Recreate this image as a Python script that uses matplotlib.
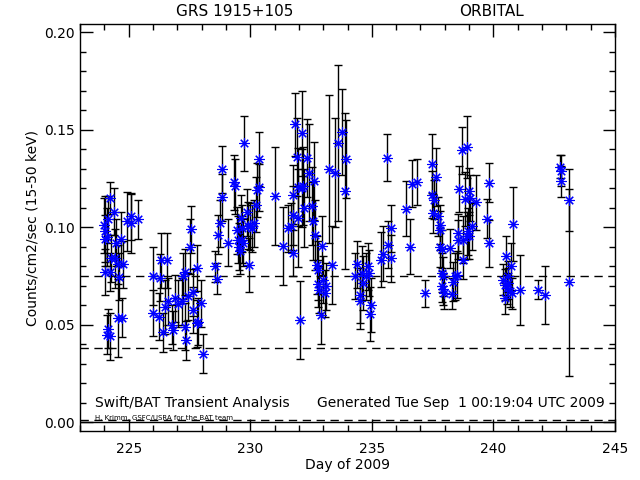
import matplotlib
matplotlib.use("Agg")
import matplotlib.pyplot as plt
from matplotlib.ticker import MultipleLocator

# day of 2009, rate, error
days = [
    224.23, 224.41, 224.00, 224.16, 224.03, 224.10, 224.03, 224.47, 224.69, 224.92,
    225.08, 225.08, 225.40, 224.27, 224.44, 224.78, 224.57, 224.03, 224.23, 224.60,
    224.16, 224.10, 224.23, 224.57, 224.74,
    226.01, 226.29, 226.32, 226.59, 226.01, 226.25, 226.43, 226.50, 226.63, 226.77,
    226.81, 226.91, 227.04, 227.18, 227.25, 227.32, 227.32, 227.36, 227.45, 227.52,
    227.55, 227.66, 227.66, 227.80, 227.82, 227.96, 228.05, 227.86,
    228.55, 228.65, 228.66, 228.76, 228.85, 228.85, 229.10, 229.33, 229.37, 229.44,
    229.51, 229.55, 229.58, 229.62, 229.65, 229.67, 229.71, 229.76, 229.85, 229.92,
    229.96, 229.99, 230.06, 230.15, 230.24, 230.27, 230.37, 230.37,
    231.02, 231.36, 231.57, 231.66, 231.75, 231.77, 231.77, 231.84, 231.91, 231.98,
    231.98, 232.05, 232.12, 232.12, 232.18, 232.21, 232.35, 232.43, 232.53, 232.57,
    232.63, 232.66, 232.73, 232.77, 232.80, 232.84, 232.90, 232.96, 233.00, 233.07,
    233.12, 233.35, 233.25, 233.49, 233.62, 233.76, 233.94, 233.90,
    235.61, 234.31, 234.38, 234.51, 234.51, 234.61, 234.65, 234.75, 234.83, 234.88,
    234.97, 234.94, 235.38, 235.45, 235.65, 235.79, 235.79, 236.40, 236.57, 236.64,
    236.84,
    237.19, 237.49, 237.64, 237.46, 237.56, 237.53, 237.73, 237.80, 237.80, 237.80,
    237.87, 238.21, 237.87, 237.94, 237.87, 237.94, 237.97, 238.28, 238.35, 238.42,
    238.49, 238.69, 238.90, 238.60, 238.83, 239.01, 239.04, 239.28, 238.56, 238.56,
    238.76, 238.90, 238.97, 239.01, 239.11, 238.74, 239.83, 239.75, 239.83,
    242.74, 242.76, 242.78, 243.12, 243.12, 240.82, 240.52, 240.71, 240.41, 240.48,
    240.55, 240.61, 240.68, 240.48, 240.75, 240.61, 241.09, 241.84, 242.12,
]
rate = [
    0.115, 0.108, 0.101, 0.104, 0.098, 0.095, 0.094, 0.092, 0.094, 0.103,
    0.1055, 0.102, 0.104, 0.084, 0.084, 0.081, 0.081, 0.077, 0.077, 0.0745,
    0.048, 0.0447, 0.044, 0.0535, 0.0535,
    0.075, 0.074, 0.083, 0.083, 0.056, 0.054, 0.046, 0.059, 0.062, 0.050,
    0.047, 0.0635, 0.0607, 0.062, 0.075, 0.077, 0.049, 0.042, 0.0645, 0.090,
    0.099, 0.0665, 0.0575, 0.0507, 0.079, 0.061, 0.035, 0.0516,
    0.080, 0.0735, 0.096, 0.102, 0.1296, 0.1153, 0.092, 0.123, 0.121, 0.0984,
    0.0936, 0.090, 0.088, 0.1047, 0.0995, 0.0936, 0.092, 0.143, 0.1076, 0.1008,
    0.0807, 0.1004, 0.0995, 0.102, 0.1116, 0.119, 0.135, 0.1205,
    0.116, 0.0905, 0.0995, 0.1004, 0.0867, 0.1167, 0.106, 0.1527, 0.136, 0.1206,
    0.1047, 0.0524, 0.1481, 0.120, 0.121, 0.110, 0.1357, 0.128, 0.111, 0.103,
    0.1236, 0.096, 0.0807, 0.0778, 0.071, 0.068, 0.055, 0.0905, 0.073, 0.066,
    0.0696, 0.0807, 0.130, 0.128, 0.143, 0.1488, 0.135, 0.1184,
    0.1356, 0.075, 0.081, 0.065, 0.062, 0.0765, 0.0713, 0.0747, 0.080, 0.0765,
    0.060, 0.0555, 0.0833, 0.0864, 0.091, 0.0995, 0.084, 0.1095, 0.090, 0.1224,
    0.1232,
    0.066, 0.1326, 0.1258, 0.1167, 0.1141, 0.1072, 0.1055, 0.1013, 0.0984, 0.0898,
    0.0888, 0.0893, 0.0765, 0.0747, 0.0696, 0.0682, 0.0662, 0.0658, 0.0721, 0.0747,
    0.0756, 0.1395, 0.1412, 0.1196, 0.1145, 0.1184, 0.115, 0.1128, 0.097, 0.0936,
    0.0936, 0.0956, 0.0978, 0.0956, 0.1004, 0.0833, 0.1227, 0.1043, 0.0918,
    0.131, 0.129, 0.1236, 0.1138, 0.0718, 0.1018, 0.0853, 0.080, 0.073, 0.0704,
    0.0687, 0.0713, 0.067, 0.0636, 0.066, 0.0747, 0.0679, 0.0679, 0.0653,
]
err = [
    0.008, 0.012, 0.014, 0.012, 0.018, 0.015, 0.012, 0.012, 0.014, 0.015,
    0.012, 0.015, 0.010, 0.012, 0.015, 0.012, 0.010, 0.012, 0.010, 0.012,
    0.010, 0.010, 0.012, 0.020, 0.010,
    0.015, 0.012, 0.014, 0.014, 0.012, 0.012, 0.010, 0.014, 0.012, 0.010,
    0.010, 0.012, 0.012, 0.012, 0.012, 0.012, 0.012, 0.010, 0.012, 0.014,
    0.012, 0.012, 0.012, 0.012, 0.012, 0.012, 0.010, 0.012,
    0.008, 0.008, 0.010, 0.012, 0.012, 0.012, 0.012, 0.014, 0.014, 0.012,
    0.012, 0.012, 0.012, 0.012, 0.012, 0.012, 0.012, 0.014, 0.012, 0.012,
    0.014, 0.012, 0.012, 0.012, 0.014, 0.014, 0.014, 0.012,
    0.025, 0.020, 0.012, 0.012, 0.012, 0.015, 0.015, 0.016, 0.020, 0.020,
    0.025, 0.020, 0.022, 0.020, 0.020, 0.020, 0.020, 0.025, 0.020, 0.020,
    0.020, 0.018, 0.015, 0.015, 0.012, 0.012, 0.015, 0.015, 0.012, 0.012,
    0.012, 0.020, 0.038, 0.028, 0.040, 0.022, 0.020, 0.040,
    0.012, 0.012, 0.012, 0.014, 0.014, 0.014, 0.014, 0.012, 0.012, 0.012,
    0.014, 0.014, 0.014, 0.014, 0.012, 0.012, 0.012, 0.014, 0.014, 0.012,
    0.012,
    0.007, 0.015, 0.015, 0.012, 0.010, 0.010, 0.010, 0.010, 0.010, 0.010,
    0.010, 0.010, 0.010, 0.010, 0.008, 0.008, 0.008, 0.008, 0.010, 0.012,
    0.012, 0.012, 0.016, 0.012, 0.014, 0.012, 0.012, 0.014, 0.010, 0.010,
    0.012, 0.012, 0.012, 0.012, 0.012, 0.010, 0.010, 0.010, 0.012,
    0.006, 0.008, 0.008, 0.016, 0.048, 0.019, 0.010, 0.012, 0.008, 0.008,
    0.008, 0.008, 0.008, 0.008, 0.008, 0.008, 0.018, 0.005, 0.015,
]

mean_level = 0.075
half_level = 0.038

fig = plt.figure(figsize=(6.4, 4.8), dpi=100)
ax = fig.add_axes([0.125, 0.102, 0.836, 0.847])

ax.axhline(mean_level, color="black", lw=1, ls=(0, (6, 4)))
ax.axhline(half_level, color="black", lw=1, ls=(0, (6, 4)))
ax.axhline(0.0, color="black", lw=1)
ax.axhline(0.0012, color="black", lw=1, ls=(0, (6, 4)))

ax.errorbar(days, rate, yerr=err, fmt="none", ecolor="black", elinewidth=1,
            capsize=2.6, capthick=1)
ax.plot(days, rate, ls="none", marker=(8, 2, 0), ms=7.5, mew=0.8, color="#0000ff")

ax.set_xlim(223, 245)
ax.set_ylim(-0.0046, 0.204)
ax.xaxis.set_major_locator(MultipleLocator(5))
ax.xaxis.set_minor_locator(MultipleLocator(1))
ax.yaxis.set_major_locator(MultipleLocator(0.05))
ax.yaxis.set_minor_locator(MultipleLocator(0.01))
ax.yaxis.set_major_formatter(plt.FormatStrFormatter("%.2f"))
ax.tick_params(which="both", direction="in", top=True, right=True, labelsize=10)
ax.tick_params(which="major", length=9, width=1)
ax.tick_params(which="minor", length=4, width=1)
ax.tick_params(axis="y", pad=4)
ax.tick_params(axis="x", pad=8)
for s in ax.spines.values():
    s.set_linewidth(1)

ax.set_xlabel("Day of 2009", fontsize=10, labelpad=1)
ax.set_ylabel("Counts/cm2/sec (15-50 keV)", fontsize=10, labelpad=3)

fig.text(235 / 640, 1 - 12 / 480, "GRS 1915+105", ha="center", va="center", fontsize=11)
fig.text(491 / 640, 1 - 12 / 480, "ORBITAL", ha="center", va="center", fontsize=11)
fig.text(95 / 640, 1 - 403 / 480, "Swift/BAT Transient Analysis", ha="left", va="center", fontsize=10)
fig.text(605 / 640, 1 - 403 / 480, "Generated Tue Sep  1 00:19:04 UTC 2009", ha="right",
         va="center", fontsize=10)
fig.text(95 / 640, 1 - 418 / 480, "H. Krimm, GSFC/USRA for the BAT team", ha="left",
         va="center", fontsize=5)

fig.savefig("out.png", dpi=100)
